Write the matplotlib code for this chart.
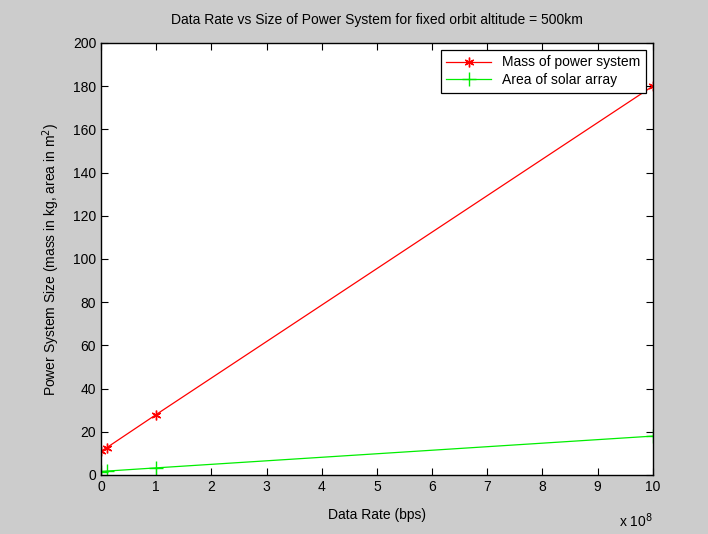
import numpy as np
import matplotlib.pyplot as plt

plt.rcParams['font.family'] = ['Liberation Sans', 'DejaVu Sans']

# data rate in bps
data_rate = [0, 1e7, 1e8, 1e9]
mass_kg = [11.0, 12.6, 28.0, 180.0]
area_m2 = [1.6, 1.8, 3.3, 18.0]

fig = plt.figure(figsize=(7.08, 5.34), dpi=100, facecolor='#cccccc')
ax = fig.add_axes([0.1427, 0.1105, 0.7793, 0.809])

x = np.array(data_rate) / 1e8
ax.plot(x, mass_kg, color='red', marker=(6, 2, 0), markersize=7, mew=1.0, lw=0.9,
        label='Mass of power system')
ax.plot(x, area_m2, color='#00ee00', marker='+', markersize=10, mew=1.0, lw=0.9,
        label='Area of solar array')

ax.set_xlim(0, 10)
ax.set_ylim(0, 200)
ax.set_xticks(range(0, 11))
ax.set_yticks(range(0, 201, 20))
ax.tick_params(direction='in', top=True, right=True, labelsize=10, length=5)
for s in ax.spines.values():
    s.set_linewidth(1.0)

ax.set_title('Data Rate vs Size of Power System for fixed orbit altitude = 500km', fontsize=10, pad=14)
ax.set_xlabel('Data Rate (bps)', fontsize=10, labelpad=10)
ax.set_ylabel('Power System Size (mass in kg, area in m$^2$)', fontsize=10, labelpad=8)
ax.text(1.0, -0.085, r'x 10$^8$', transform=ax.transAxes, ha='right', va='top', fontsize=10)

leg = ax.legend(loc='upper right', fontsize=10, fancybox=False, framealpha=1,
                edgecolor='black', borderaxespad=0.5, handlelength=3.2,
                labelspacing=0.25, borderpad=0.4)
leg.get_frame().set_linewidth(0.9)

fig.savefig('out.png', dpi=100, facecolor=fig.get_facecolor())
